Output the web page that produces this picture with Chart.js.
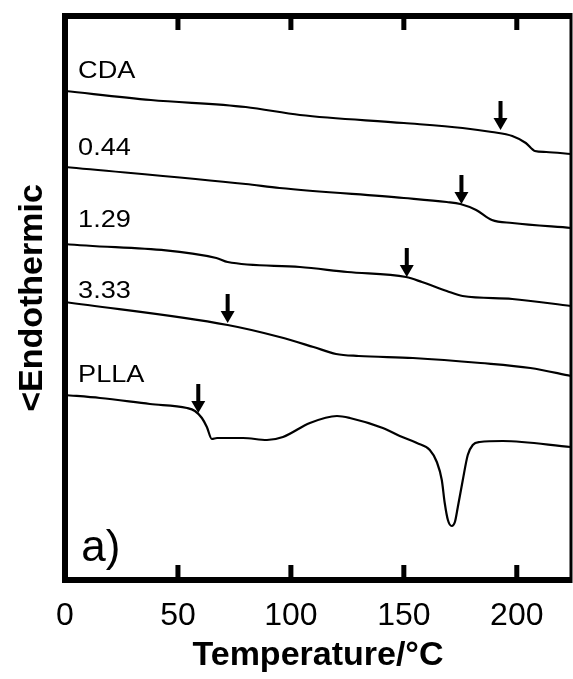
<!DOCTYPE html>
<html>
<head>
<meta charset="utf-8">
<script src="https://cdn.jsdelivr.net/npm/chart.js@4.4.0/dist/chart.umd.min.js"></script>
<style>
  html, body { margin: 0; padding: 0; background: #fff; }
</style>
</head>
<body>
<canvas id="dscChart" width="573" height="679"></canvas>
<script>
// DSC heating traces, temperature in deg C, heat flow in arbitrary units (curves offset)
const seriesNames = ['CDA', '0.44', '1.29', '3.33', 'PLLA'];

const cdaT = [0, 38, 80, 104, 150, 176, 189, 198, 204, 208, 213, 224];
const cdaY = [489, 480, 473, 465, 457, 452, 448, 444, 437, 429, 428, 426];

const p044T = [0, 80, 95, 150, 169, 175, 182, 189, 198, 224];
const p044Y = [413, 396, 392, 382, 378, 376, 370, 360, 357, 352];

const p129T = [0, 67, 72, 104, 125, 151, 158, 169, 176, 198, 224];
const p129Y = [336, 322, 318, 313, 308, 303, 298, 289, 284, 281, 274];

const p333T = [0, 72, 95, 110, 120, 130, 154, 184, 206, 224];
const p333Y = [278, 255, 243, 233, 226, 224, 222, 217, 212, 204];

const pllaT = [0, 15.5, 37.6, 54, 57.5, 60.6, 62.8, 65, 67.3, 78.8, 89.4, 96.5, 108.4, 120.4, 126.1,
  140.7, 148.2, 155.8, 161.5, 164.6, 166.8, 168.1, 169.5, 171.2, 172.6, 173.9, 176.1, 178.3,
  180.5, 183.6, 193.8, 224];
const pllaY = [185, 182, 176, 172, 169, 162, 153, 141, 142, 142, 140, 143, 157, 164, 162,
  152, 144, 137, 130, 118, 100, 77, 60, 54, 58, 73, 100, 125,
  135, 138, 139, 133];

// glass transition arrows (temperature, heat flow at the tip)
const arrowT = [192.8, 175.5, 151.3, 72, 59];
const arrowY = [450, 376, 303, 257, 167];

const xTicks = [0, 50, 100, 150, 200];

const FONT = "'Liberation Sans', Arial, sans-serif";

function pts(xs, ys) {
  return xs.map((t, i) => ({ x: t, y: ys[i] }));
}

const traces = [[cdaT, cdaY], [p044T, p044Y], [p129T, p129Y], [p333T, p333Y], [pllaT, pllaY]];

// text a bit wider than the font, like the original figure
function wideText(ctx, txt, x, y, sx) {
  ctx.save();
  ctx.translate(x, y);
  ctx.scale(sx, 1);
  ctx.fillText(txt, 0, 0);
  ctx.restore();
}

// text labels + arrows + frame drawn on top
const decorPlugin = {
  id: 'decor',
  afterDatasetsDraw(chart) {
    const { ctx, chartArea: a, scales: { x, y } } = chart;
    ctx.save();
    ctx.fillStyle = '#000';
    ctx.strokeStyle = '#000';

    arrowT.forEach((t, i) => {
      const px = x.getPixelForValue(t);
      const py = y.getPixelForValue(arrowY[i]);
      ctx.fillRect(px - 2, py - 29, 4, 19);
      ctx.beginPath();
      ctx.moveTo(px - 7, py - 12);
      ctx.lineTo(px + 7, py - 12);
      ctx.lineTo(px, py);
      ctx.closePath();
      ctx.fill();
    });

    // series names
    const labelY = [509, 432, 360, 289, 204.5];
    ctx.font = '24px ' + FONT;
    ctx.textAlign = 'left';
    ctx.textBaseline = 'middle';
    seriesNames.forEach((n, i) => {
      wideText(ctx, n, x.getPixelForValue(5.8), y.getPixelForValue(labelY[i]), 1.13);
    });
    ctx.font = '44px ' + FONT;
    ctx.fillText('a)', x.getPixelForValue(7.2), y.getPixelForValue(31));

    // frame
    ctx.lineWidth = 6;
    ctx.beginPath();
    ctx.moveTo(a.right, a.top);
    ctx.lineTo(a.left, a.top);
    ctx.lineTo(a.left, a.bottom);
    ctx.lineTo(a.right, a.bottom);
    ctx.stroke();
    ctx.lineWidth = 3;
    ctx.beginPath();
    ctx.moveTo(a.right, a.top - 3);
    ctx.lineTo(a.right, a.bottom + 3);
    ctx.stroke();

    // inward tick marks, top and bottom
    x.ticks.forEach(tk => {
      if (tk.value <= x.min || tk.value >= x.max) return;
      const px = x.getPixelForValue(tk.value);
      ctx.fillRect(px - 2.5, a.top, 5, 14);
      ctx.fillRect(px - 2.5, a.bottom - 15, 5, 15);
    });
    ctx.restore();
  }
};

new Chart(document.getElementById('dscChart'), {
  type: 'line',
  data: {
    datasets: traces.map((tr, i) => ({
      label: seriesNames[i],
      data: pts(tr[0], tr[1]),
      borderColor: '#000',
      borderWidth: 2.2,
      pointRadius: 0,
      fill: false,
      cubicInterpolationMode: 'monotone'
    }))
  },
  options: {
    responsive: false,
    animation: false,
    layout: { padding: { top: 16, right: 2, left: 0, bottom: 0 } },
    plugins: { legend: { display: false }, tooltip: { enabled: false } },
    scales: {
      x: {
        type: 'linear',
        min: 0,
        max: 224,
        afterBuildTicks: s => { s.ticks = xTicks.map(v => ({ value: v })); },
        afterFit: s => { s.height = 99; },
        ticks: { font: { family: FONT, size: 32 }, color: '#000', padding: 17, maxRotation: 0, autoSkip: false },
        grid: { display: false, drawTicks: false },
        border: { display: false },
        title: {
          display: true,
          text: 'Temperature/°C',
          color: '#000',
          font: { family: FONT, size: 34, weight: 'bold' },
          padding: { top: 0, bottom: 3 }
        }
      },
      y: {
        type: 'linear',
        min: 0,
        max: 564,
        afterFit: s => { s.width = 65; },
        ticks: { display: false },
        grid: { display: false, drawTicks: false },
        border: { display: false },
        title: {
          display: true,
          text: '<Endothermic',
          color: '#000',
          font: { family: FONT, size: 34, weight: 'bold' },
          padding: { top: 12, bottom: 0 }
        }
      }
    }
  },
  plugins: [decorPlugin]
});
</script>
</body>
</html>
